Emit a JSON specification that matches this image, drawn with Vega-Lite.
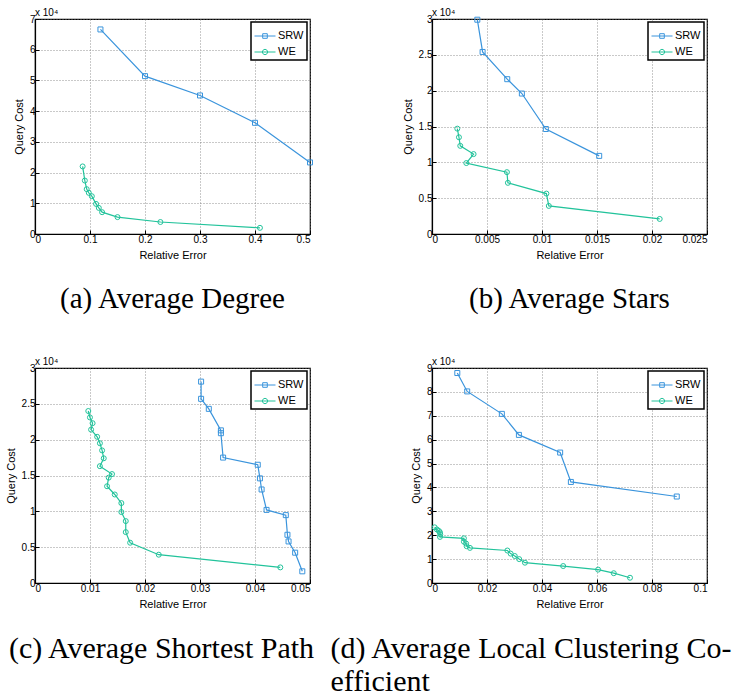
{
  "$schema": "https://vega.github.io/schema/vega-lite/v6.json",
  "padding": {"left": 4, "top": 7, "right": 0, "bottom": 0},
  "background": "white",
  "datasets": {
    "a": [
      {"method":"SRW","i":0,"error":0.119,"cost":66600},
      {"method":"SRW","i":1,"error":0.200,"cost":51400},
      {"method":"SRW","i":2,"error":0.300,"cost":45100},
      {"method":"SRW","i":3,"error":0.400,"cost":36200},
      {"method":"SRW","i":4,"error":0.500,"cost":23300},
      {"method":"WE","i":0,"error":0.0866,"cost":22000},
      {"method":"WE","i":1,"error":0.0906,"cost":17400},
      {"method":"WE","i":2,"error":0.094,"cost":14600},
      {"method":"WE","i":3,"error":0.0978,"cost":13400},
      {"method":"WE","i":4,"error":0.1033,"cost":12300},
      {"method":"WE","i":5,"error":0.111,"cost":9800},
      {"method":"WE","i":6,"error":0.116,"cost":8500},
      {"method":"WE","i":7,"error":0.122,"cost":7100},
      {"method":"WE","i":8,"error":0.150,"cost":5500},
      {"method":"WE","i":9,"error":0.228,"cost":3900},
      {"method":"WE","i":10,"error":0.409,"cost":2000}
    ],
    "b": [
      {"method":"SRW","i":0,"error":0.00412,"cost":29900},
      {"method":"SRW","i":1,"error":0.0046,"cost":25400},
      {"method":"SRW","i":2,"error":0.00684,"cost":21600},
      {"method":"SRW","i":3,"error":0.00817,"cost":19600},
      {"method":"SRW","i":4,"error":0.01035,"cost":14650},
      {"method":"SRW","i":5,"error":0.0152,"cost":10900},
      {"method":"WE","i":0,"error":0.0023,"cost":14700},
      {"method":"WE","i":1,"error":0.00245,"cost":13500},
      {"method":"WE","i":2,"error":0.00257,"cost":12300},
      {"method":"WE","i":3,"error":0.00378,"cost":11150},
      {"method":"WE","i":4,"error":0.00312,"cost":9900},
      {"method":"WE","i":5,"error":0.00681,"cost":8630},
      {"method":"WE","i":6,"error":0.0069,"cost":7140},
      {"method":"WE","i":7,"error":0.0104,"cost":5640},
      {"method":"WE","i":8,"error":0.01062,"cost":3920},
      {"method":"WE","i":9,"error":0.0207,"cost":2100}
    ],
    "c": [
      {"method":"SRW","i":0,"error":0.0302,"cost":28100},
      {"method":"SRW","i":1,"error":0.0302,"cost":25700},
      {"method":"SRW","i":2,"error":0.0316,"cost":24300},
      {"method":"SRW","i":3,"error":0.0338,"cost":21300},
      {"method":"SRW","i":4,"error":0.0338,"cost":20900},
      {"method":"SRW","i":5,"error":0.0342,"cost":17500},
      {"method":"SRW","i":6,"error":0.0405,"cost":16500},
      {"method":"SRW","i":7,"error":0.0409,"cost":14600},
      {"method":"SRW","i":8,"error":0.0412,"cost":13050},
      {"method":"SRW","i":9,"error":0.0421,"cost":10200},
      {"method":"SRW","i":10,"error":0.0456,"cost":9470},
      {"method":"SRW","i":11,"error":0.0459,"cost":6730},
      {"method":"SRW","i":12,"error":0.0461,"cost":5800},
      {"method":"SRW","i":13,"error":0.0473,"cost":4230},
      {"method":"SRW","i":14,"error":0.0486,"cost":1630},
      {"method":"WE","i":0,"error":0.00969,"cost":24000},
      {"method":"WE","i":1,"error":0.00999,"cost":23100},
      {"method":"WE","i":2,"error":0.01047,"cost":22300},
      {"method":"WE","i":3,"error":0.0102,"cost":21400},
      {"method":"WE","i":4,"error":0.0113,"cost":20400},
      {"method":"WE","i":5,"error":0.0118,"cost":19500},
      {"method":"WE","i":6,"error":0.0122,"cost":18500},
      {"method":"WE","i":7,"error":0.0125,"cost":17400},
      {"method":"WE","i":8,"error":0.0118,"cost":16300},
      {"method":"WE","i":9,"error":0.0140,"cost":15200},
      {"method":"WE","i":10,"error":0.0134,"cost":14700},
      {"method":"WE","i":11,"error":0.0131,"cost":13500},
      {"method":"WE","i":12,"error":0.0145,"cost":12350},
      {"method":"WE","i":13,"error":0.0157,"cost":11150},
      {"method":"WE","i":14,"error":0.0157,"cost":9900},
      {"method":"WE","i":15,"error":0.0165,"cost":8640},
      {"method":"WE","i":16,"error":0.0165,"cost":7100},
      {"method":"WE","i":17,"error":0.0173,"cost":5620},
      {"method":"WE","i":18,"error":0.0225,"cost":3950},
      {"method":"WE","i":19,"error":0.0446,"cost":2180}
    ],
    "d": [
      {"method":"SRW","i":0,"error":0.0092,"cost":87900},
      {"method":"SRW","i":1,"error":0.0128,"cost":80200},
      {"method":"SRW","i":2,"error":0.0254,"cost":70800},
      {"method":"SRW","i":3,"error":0.0316,"cost":62000},
      {"method":"SRW","i":4,"error":0.0466,"cost":54600},
      {"method":"SRW","i":5,"error":0.0505,"cost":42300},
      {"method":"SRW","i":6,"error":0.089,"cost":36200},
      {"method":"WE","i":0,"error":0.00097,"cost":23300},
      {"method":"WE","i":1,"error":0.0018,"cost":22400},
      {"method":"WE","i":2,"error":0.0025,"cost":21800},
      {"method":"WE","i":3,"error":0.0029,"cost":21200},
      {"method":"WE","i":4,"error":0.003,"cost":20400},
      {"method":"WE","i":5,"error":0.0029,"cost":19300},
      {"method":"WE","i":6,"error":0.0116,"cost":18700},
      {"method":"WE","i":7,"error":0.0116,"cost":17300},
      {"method":"WE","i":8,"error":0.0124,"cost":16500},
      {"method":"WE","i":9,"error":0.0126,"cost":15400},
      {"method":"WE","i":10,"error":0.0138,"cost":14700},
      {"method":"WE","i":11,"error":0.0274,"cost":13600},
      {"method":"WE","i":12,"error":0.0286,"cost":12300},
      {"method":"WE","i":13,"error":0.0301,"cost":11300},
      {"method":"WE","i":14,"error":0.0317,"cost":10000},
      {"method":"WE","i":15,"error":0.0338,"cost":8500},
      {"method":"WE","i":16,"error":0.0477,"cost":7100},
      {"method":"WE","i":17,"error":0.0604,"cost":5600},
      {"method":"WE","i":18,"error":0.0661,"cost":4100},
      {"method":"WE","i":19,"error":0.072,"cost":2200}
    ],
    "note": [{"label": "x 10⁴"}]
  },
  "config": {
    "view": {"stroke": "black", "strokeWidth": 1.2},
    "font": "Liberation Sans",
    "axis": {
      "labelFont": "Liberation Sans", "labelFontSize": 10, "labelColor": "black", "labelOverlap": false,
      "titleFont": "Liberation Sans", "titleFontSize": 11, "titleFontWeight": "normal", "titleColor": "black",
      "domainColor": "black", "domainWidth": 1.2,
      "gridColor": "#777", "gridDash": [1, 2], "gridWidth": 0.8,
      "tickColor": "black", "tickSize": -4, "labelPadding": 4, "titlePadding": 5
    },
    "legend": {
      "orient": "top-right", "offset": 3, "title": null,
      "strokeColor": "black", "strokeWidth": 1.5, "fillColor": "white",
      "padding": 3, "labelFont": "Liberation Sans", "labelFontSize": 11, "labelColor": "black",
      "symbolSize": 441, "symbolStrokeWidth": 1, "symbolOpacity": 1, "labelOffset": 2, "rowPadding": 0
    },
    "title": {"font": "Liberation Serif", "fontSize": 29, "fontWeight": "normal", "color": "black"}
  },
  "resolve": {"legend": {"color": "independent", "shape": "independent"}},
  "columns": 2,
  "spacing": {"row": 134, "column": 122},
  "bounds": "flush",
  "concat": [
    {
      "width": 275, "height": 215,
      "title": {"text": "(a) Average Degree", "orient": "bottom", "anchor": "middle", "offset": 25},
      "layer": [
        {
          "data": {"name": "a"},
          "encoding": {
            "x": {"field": "error", "type": "quantitative", "scale": {"domain": [0, 0.5], "nice": false}, "axis": {"title": "Relative Error", "values": [0, 0.1, 0.2, 0.3, 0.4, 0.5], "format": "~g"}},
            "y": {"field": "cost", "type": "quantitative", "scale": {"domain": [0, 70000], "nice": false}, "axis": {"title": "Query Cost", "values": [0, 10000, 20000, 30000, 40000, 50000, 60000, 70000], "labelExpr": "datum.value / 10000"}}
          },
          "layer": [
            {"transform": [{"filter": "datum.method === 'SRW'"}], "mark": {"type": "line", "strokeWidth": 1.2, "color": "#3a94dc"}, "encoding": {"order": {"field": "i", "type": "quantitative"}}},
            {"transform": [{"filter": "datum.method === 'WE'"}], "mark": {"type": "line", "strokeWidth": 1.2, "color": "#22c39b"}, "encoding": {"order": {"field": "i", "type": "quantitative"}}},
            {"transform": [{"filter": "datum.method === 'SRW'"}], "mark": {"type": "point", "shape": "square", "filled": false, "size": 25, "strokeWidth": 1, "opacity": 1, "color": "#3a94dc"}},
            {"transform": [{"filter": "datum.method === 'WE'"}], "mark": {"type": "point", "shape": "circle", "filled": false, "size": 25, "strokeWidth": 1, "opacity": 1, "color": "#22c39b"}},
            {"mark": {"type": "point", "filled": false, "strokeWidth": 1, "opacity": 0},
             "encoding": {
              "color": {"field": "method", "type": "nominal", "scale": {"domain": ["SRW", "WE"], "range": ["#3a94dc", "#22c39b"]}},
              "shape": {"field": "method", "type": "nominal", "scale": {"domain": ["SRW", "WE"], "range": ["M-1,0H1M-0.22,-0.22H0.22V0.22H-0.22Z", "M-1,0H1M0.25,0A0.25,0.25,0,1,1,-0.25,0A0.25,0.25,0,1,1,0.25,0"]}}}}
          ]
        },
        {"data": {"name": "note"}, "mark": {"type": "text", "align": "left", "baseline": "alphabetic", "dy": -3, "fontSize": 10, "color": "black"},
         "encoding": {
          "x": {"datum": 0, "type": "quantitative", "scale": {"domain": [0, 0.5], "nice": false}, "axis": {"title": "Relative Error", "values": [0, 0.1, 0.2, 0.3, 0.4, 0.5], "format": "~g"}},
          "y": {"datum": 70000, "type": "quantitative", "scale": {"domain": [0, 70000], "nice": false}, "axis": {"title": "Query Cost", "values": [0, 10000, 20000, 30000, 40000, 50000, 60000, 70000], "labelExpr": "datum.value / 10000"}},
          "text": {"field": "label", "type": "nominal"}}}
      ]
    },
    {
      "width": 275, "height": 215,
      "title": {"text": "(b) Average Stars", "orient": "bottom", "anchor": "middle", "offset": 25},
      "layer": [
        {
          "data": {"name": "b"},
          "encoding": {
            "x": {"field": "error", "type": "quantitative", "scale": {"domain": [0, 0.025], "nice": false}, "axis": {"title": "Relative Error", "values": [0, 0.005, 0.01, 0.015, 0.02, 0.025], "format": "~g"}},
            "y": {"field": "cost", "type": "quantitative", "scale": {"domain": [0, 30000], "nice": false}, "axis": {"title": "Query Cost", "values": [0, 5000, 10000, 15000, 20000, 25000, 30000], "labelExpr": "datum.value / 10000"}}
          },
          "layer": [
            {"transform": [{"filter": "datum.method === 'SRW'"}], "mark": {"type": "line", "strokeWidth": 1.2, "color": "#3a94dc"}, "encoding": {"order": {"field": "i", "type": "quantitative"}}},
            {"transform": [{"filter": "datum.method === 'WE'"}], "mark": {"type": "line", "strokeWidth": 1.2, "color": "#22c39b"}, "encoding": {"order": {"field": "i", "type": "quantitative"}}},
            {"transform": [{"filter": "datum.method === 'SRW'"}], "mark": {"type": "point", "shape": "square", "filled": false, "size": 25, "strokeWidth": 1, "opacity": 1, "color": "#3a94dc"}},
            {"transform": [{"filter": "datum.method === 'WE'"}], "mark": {"type": "point", "shape": "circle", "filled": false, "size": 25, "strokeWidth": 1, "opacity": 1, "color": "#22c39b"}},
            {"mark": {"type": "point", "filled": false, "strokeWidth": 1, "opacity": 0},
             "encoding": {
              "color": {"field": "method", "type": "nominal", "scale": {"domain": ["SRW", "WE"], "range": ["#3a94dc", "#22c39b"]}},
              "shape": {"field": "method", "type": "nominal", "scale": {"domain": ["SRW", "WE"], "range": ["M-1,0H1M-0.22,-0.22H0.22V0.22H-0.22Z", "M-1,0H1M0.25,0A0.25,0.25,0,1,1,-0.25,0A0.25,0.25,0,1,1,0.25,0"]}}}}
          ]
        },
        {"data": {"name": "note"}, "mark": {"type": "text", "align": "left", "baseline": "alphabetic", "dy": -3, "fontSize": 10, "color": "black"},
         "encoding": {
          "x": {"datum": 0, "type": "quantitative", "scale": {"domain": [0, 0.025], "nice": false}, "axis": {"title": "Relative Error", "values": [0, 0.005, 0.01, 0.015, 0.02, 0.025], "format": "~g"}},
          "y": {"datum": 30000, "type": "quantitative", "scale": {"domain": [0, 30000], "nice": false}, "axis": {"title": "Query Cost", "values": [0, 5000, 10000, 15000, 20000, 25000, 30000], "labelExpr": "datum.value / 10000"}},
          "text": {"field": "label", "type": "nominal"}}}
      ]
    },
    {
      "width": 275, "height": 215,
      "title": {"text": "(c) Average Shortest Path", "orient": "bottom", "anchor": "middle", "offset": 25, "fontSize": 30, "dx": -11},
      "layer": [
        {
          "data": {"name": "c"},
          "encoding": {
            "x": {"field": "error", "type": "quantitative", "scale": {"domain": [0, 0.05], "nice": false}, "axis": {"title": "Relative Error", "values": [0, 0.01, 0.02, 0.03, 0.04, 0.05], "format": "~g"}},
            "y": {"field": "cost", "type": "quantitative", "scale": {"domain": [0, 30000], "nice": false}, "axis": {"title": "Query Cost", "values": [0, 5000, 10000, 15000, 20000, 25000, 30000], "labelExpr": "datum.value / 10000"}}
          },
          "layer": [
            {"transform": [{"filter": "datum.method === 'SRW'"}], "mark": {"type": "line", "strokeWidth": 1.2, "color": "#3a94dc"}, "encoding": {"order": {"field": "i", "type": "quantitative"}}},
            {"transform": [{"filter": "datum.method === 'WE'"}], "mark": {"type": "line", "strokeWidth": 1.2, "color": "#22c39b"}, "encoding": {"order": {"field": "i", "type": "quantitative"}}},
            {"transform": [{"filter": "datum.method === 'SRW'"}], "mark": {"type": "point", "shape": "square", "filled": false, "size": 25, "strokeWidth": 1, "opacity": 1, "color": "#3a94dc"}},
            {"transform": [{"filter": "datum.method === 'WE'"}], "mark": {"type": "point", "shape": "circle", "filled": false, "size": 25, "strokeWidth": 1, "opacity": 1, "color": "#22c39b"}},
            {"mark": {"type": "point", "filled": false, "strokeWidth": 1, "opacity": 0},
             "encoding": {
              "color": {"field": "method", "type": "nominal", "scale": {"domain": ["SRW", "WE"], "range": ["#3a94dc", "#22c39b"]}},
              "shape": {"field": "method", "type": "nominal", "scale": {"domain": ["SRW", "WE"], "range": ["M-1,0H1M-0.22,-0.22H0.22V0.22H-0.22Z", "M-1,0H1M0.25,0A0.25,0.25,0,1,1,-0.25,0A0.25,0.25,0,1,1,0.25,0"]}}}}
          ]
        },
        {"data": {"name": "note"}, "mark": {"type": "text", "align": "left", "baseline": "alphabetic", "dy": -3, "fontSize": 10, "color": "black"},
         "encoding": {
          "x": {"datum": 0, "type": "quantitative", "scale": {"domain": [0, 0.05], "nice": false}, "axis": {"title": "Relative Error", "values": [0, 0.01, 0.02, 0.03, 0.04, 0.05], "format": "~g"}},
          "y": {"datum": 30000, "type": "quantitative", "scale": {"domain": [0, 30000], "nice": false}, "axis": {"title": "Query Cost", "values": [0, 5000, 10000, 15000, 20000, 25000, 30000], "labelExpr": "datum.value / 10000"}},
          "text": {"field": "label", "type": "nominal"}}}
      ]
    },
    {
      "width": 275, "height": 215,
      "title": {"text": ["(d) Average Local Clustering Co-", "efficient"], "orient": "bottom", "anchor": "start", "dx": -80, "offset": 25, "lineHeight": 33, "fontSize": 30},
      "layer": [
        {
          "data": {"name": "d"},
          "encoding": {
            "x": {"field": "error", "type": "quantitative", "scale": {"domain": [0, 0.1], "nice": false}, "axis": {"title": "Relative Error", "values": [0, 0.02, 0.04, 0.06, 0.08, 0.1], "format": "~g"}},
            "y": {"field": "cost", "type": "quantitative", "scale": {"domain": [0, 90000], "nice": false}, "axis": {"title": "Query Cost", "values": [0, 10000, 20000, 30000, 40000, 50000, 60000, 70000, 80000, 90000], "labelExpr": "datum.value / 10000"}}
          },
          "layer": [
            {"transform": [{"filter": "datum.method === 'SRW'"}], "mark": {"type": "line", "strokeWidth": 1.2, "color": "#3a94dc"}, "encoding": {"order": {"field": "i", "type": "quantitative"}}},
            {"transform": [{"filter": "datum.method === 'WE'"}], "mark": {"type": "line", "strokeWidth": 1.2, "color": "#22c39b"}, "encoding": {"order": {"field": "i", "type": "quantitative"}}},
            {"transform": [{"filter": "datum.method === 'SRW'"}], "mark": {"type": "point", "shape": "square", "filled": false, "size": 25, "strokeWidth": 1, "opacity": 1, "color": "#3a94dc"}},
            {"transform": [{"filter": "datum.method === 'WE'"}], "mark": {"type": "point", "shape": "circle", "filled": false, "size": 25, "strokeWidth": 1, "opacity": 1, "color": "#22c39b"}},
            {"mark": {"type": "point", "filled": false, "strokeWidth": 1, "opacity": 0},
             "encoding": {
              "color": {"field": "method", "type": "nominal", "scale": {"domain": ["SRW", "WE"], "range": ["#3a94dc", "#22c39b"]}},
              "shape": {"field": "method", "type": "nominal", "scale": {"domain": ["SRW", "WE"], "range": ["M-1,0H1M-0.22,-0.22H0.22V0.22H-0.22Z", "M-1,0H1M0.25,0A0.25,0.25,0,1,1,-0.25,0A0.25,0.25,0,1,1,0.25,0"]}}}}
          ]
        },
        {"data": {"name": "note"}, "mark": {"type": "text", "align": "left", "baseline": "alphabetic", "dy": -3, "fontSize": 10, "color": "black"},
         "encoding": {
          "x": {"datum": 0, "type": "quantitative", "scale": {"domain": [0, 0.1], "nice": false}, "axis": {"title": "Relative Error", "values": [0, 0.02, 0.04, 0.06, 0.08, 0.1], "format": "~g"}},
          "y": {"datum": 90000, "type": "quantitative", "scale": {"domain": [0, 90000], "nice": false}, "axis": {"title": "Query Cost", "values": [0, 10000, 20000, 30000, 40000, 50000, 60000, 70000, 80000, 90000], "labelExpr": "datum.value / 10000"}},
          "text": {"field": "label", "type": "nominal"}}}
      ]
    }
  ]
}
